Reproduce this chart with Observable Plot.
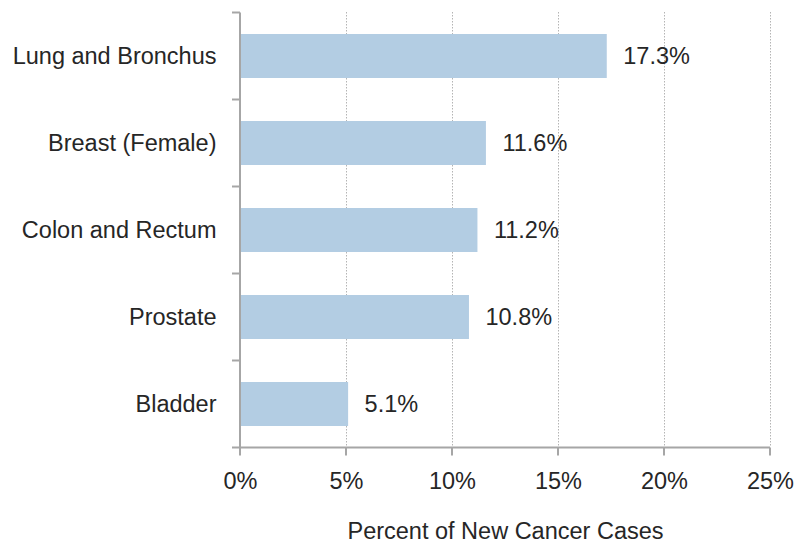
<!DOCTYPE html>
<html>
<head>
<meta charset="utf-8">
<script src="https://cdn.jsdelivr.net/npm/d3@7"></script>
<script src="https://cdn.jsdelivr.net/npm/@observablehq/plot@0.6"></script>
<style>
  html, body { margin: 0; padding: 0; background: #fff; }
  #chart svg { font-family: "Liberation Sans", Arial, sans-serif; }
</style>
</head>
<body>
<div id="chart"></div>
<script>
const categories = ["Lung and Bronchus", "Breast (Female)", "Colon and Rectum", "Prostate", "Bladder"];
const values = [17.3, 11.6, 11.2, 10.8, 5.1];
const xTicks = [0, 5, 10, 15, 20, 25];
const xLabel = "Percent of New Cancer Cases";

const data = categories.map((c, i) => ({category: c, value: values[i]}));
const axisColor = "#a6a6a6";
const textColor = "#262626";
const fs = 23.5;

const plot = Plot.plot({
  width: 795,
  height: 544,
  marginLeft: 240,
  marginRight: 25,
  marginTop: 12,
  marginBottom: 97,
  style: {fontSize: fs + "px", color: textColor, background: "#fff"},
  x: {domain: [0, 25], ticks: xTicks},
  y: {domain: categories, paddingInner: 0.5, paddingOuter: 0.25, align: 0.5},
  marks: [
    Plot.gridX(xTicks.slice(1), {stroke: "#b4b4b4", strokeOpacity: 1, strokeDasharray: "1.5,1.5", strokeWidth: 1}),
    Plot.barX(data, {x: "value", y: "category", fill: "#b3cde3"}),
    Plot.text(data, {x: "value", y: "category", text: d => d.value.toFixed(1) + "%", textAnchor: "start", dx: 16, fill: textColor, fontSize: fs}),
    Plot.axisY({tickSize: 0, tickPadding: 24, fontSize: fs, fill: textColor, label: null}),
    Plot.axisX(xTicks, {tickSize: 0, tickPadding: 25, fontSize: fs, fill: textColor, tickFormat: d => d + "%", label: xLabel, labelAnchor: "center", labelArrow: "none", labelOffset: 91})
  ]
});

document.getElementById("chart").appendChild(plot);

// Axis lines and band-boundary ticks drawn from the plot's own scales
const xs = plot.scale("x"), ys = plot.scale("y");
const svg = d3.select(plot);
const x0 = xs.apply(0), x1 = xs.apply(25);
const bw = ys.bandwidth, step = ys.step;
const yTop = ys.apply(categories[0]) - (step - bw) / 2;
const yBot = ys.apply(categories[categories.length - 1]) + bw + (step - bw) / 2;
const tick = 8;
const g = svg.append("g").attr("stroke", axisColor).attr("stroke-width", 2).attr("fill", "none");
g.append("line").attr("x1", x0).attr("x2", x0).attr("y1", yTop).attr("y2", yBot + tick);
g.append("line").attr("x1", x0 - tick).attr("x2", x1).attr("y1", yBot).attr("y2", yBot);
categories.forEach((c, i) => {
  const yb = ys.apply(c) - (step - bw) / 2;
  g.append("line").attr("x1", x0 - tick).attr("x2", x0).attr("y1", yb).attr("y2", yb);
});
xTicks.slice(1).forEach(t => {
  g.append("line").attr("x1", xs.apply(t)).attr("x2", xs.apply(t)).attr("y1", yBot).attr("y2", yBot + tick);
});
</script>
</body>
</html>
